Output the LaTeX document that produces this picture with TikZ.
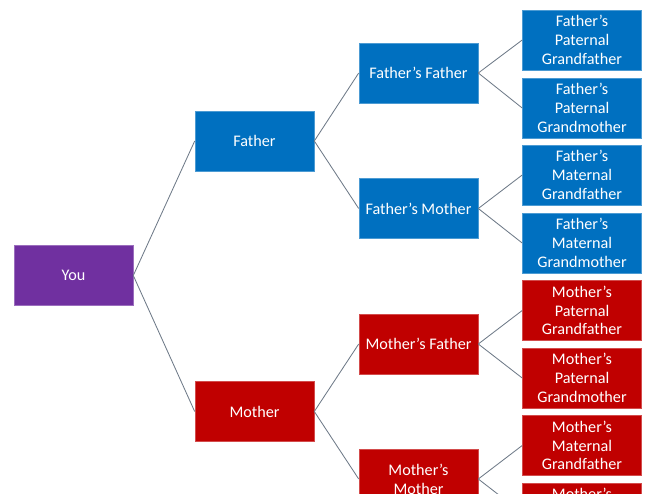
\documentclass[tikz,border=0pt]{standalone}
\usepackage{fontspec}
\setmainfont{Carlito}
\definecolor{youpurple}{HTML}{7030A0}
\definecolor{dadblue}{HTML}{0070C0}
\definecolor{mumred}{HTML}{C00000}
\definecolor{linkgray}{HTML}{6E7A88}
\begin{document}
\begin{tikzpicture}[x=0.025cm,y=-0.025cm,
	person/.style={minimum width=2.975cm, minimum height=1.5cm, inner sep=1pt, align=center,
		text=white, font=\fontsize{11.5}{13.4}\selectfont},
	you/.style={person, fill=youpurple, draw=youpurple!70!white},
	dad/.style={person, fill=dadblue, draw=dadblue!70!white},
	mum/.style={person, fill=mumred, draw=mumred!70!white},
	link/.style={draw=linkgray, line width=0.6pt}]
	
	\useasboundingbox (0,0) rectangle (647,494);
	\clip (0,0) rectangle (647,494);
	
	\node[you] (you) at (73.5,275.5) {You};
	
	\node[dad] (father) at (254.5,141) {Father};
	\node[mum] (mother) at (254.5,411.5) {Mother};
	
	\node[dad] (ff) at (418.5,73) {Father’s Father};
	\node[dad] (fm) at (418.5,208.5) {Father’s Mother};
	\node[mum] (mf) at (418.5,344) {Mother’s Father};
	\node[mum] (mm) at (418.5,479) {Mother’s\\Mother};
	
	% grandparents
	\node[dad] (ffgf) at (582,40) {Father’s\\Paternal\\Grandfather};
	\node[dad] (ffgm) at (582,108) {Father’s\\Paternal\\Grandmother};
	\node[dad] (fmgf) at (582,175) {Father’s\\Maternal\\Grandfather};
	\node[dad] (fmgm) at (582,243) {Father’s\\Maternal\\Grandmother};
	\node[mum] (mfgf) at (582,310.5) {Mother’s\\Paternal\\Grandfather};
	\node[mum] (mfgm) at (582,378) {Mother’s\\Paternal\\Grandmother};
	\node[mum] (mmgf) at (582,445.5) {Mother’s\\Maternal\\Grandfather};
	\node[mum] (mmgm) at (582,513) {Mother’s\\Maternal\\Grandmother};
	
	\draw[link] (you.east) -- (father.west);
	\draw[link] (you.east) -- (mother.west);
	
	\draw[link] (father.east) -- (ff.west);
	\draw[link] (father.east) -- (fm.west);
	\draw[link] (mother.east) -- (mf.west);
	\draw[link] (mother.east) -- (mm.west);
	
	\draw[link] (ff.east) -- (ffgf.west);
	\draw[link] (ff.east) -- (ffgm.west);
	\draw[link] (fm.east) -- (fmgf.west);
	\draw[link] (fm.east) -- (fmgm.west);
	\draw[link] (mf.east) -- (mfgf.west);
	\draw[link] (mf.east) -- (mfgm.west);
	\draw[link] (mm.east) -- (mmgf.west);
	\draw[link] (mm.east) -- (mmgm.west);
	
\end{tikzpicture}
\end{document}
